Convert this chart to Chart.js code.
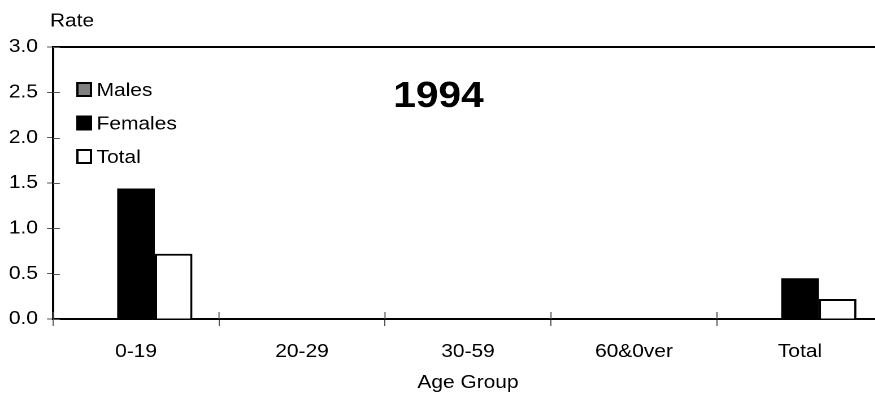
<!DOCTYPE html>
<html><head><meta charset="utf-8">
<script src="https://cdn.jsdelivr.net/npm/chart.js@4/dist/chart.umd.min.js"></script>
<style>
html,body{margin:0;padding:0;overflow:hidden;background:#fff;width:875px;height:394px}
#wrap{width:800px;height:394px;transform:scaleX(1.13);transform-origin:0 0}
</style>
</head><body><div id="wrap"><canvas id="c" width="800" height="394"></canvas></div>
<script>
const categories = ["0-19", "20-29", "30-59", "60&0ver", "Total"];
const males = [0, 0, 0, 0, 0];
const females = [1.44, 0, 0, 0, 0.45];
const total = [0.72, 0, 0, 0, 0.22];
const yTicks = [0, 0.5, 1.0, 1.5, 2.0, 2.5, 3.0];
const chartTitle = "1994";
const yTitle = "Rate";
const xTitle = "Age Group";

const FONT = "'Liberation Sans', Arial, sans-serif";

const extras = {
  id: 'extras',
  afterDraw(chart) {
    const ctx = chart.ctx, a = chart.chartArea;
    const xs = chart.scales.x, ys = chart.scales.y;
    ctx.save();
    // top border
    ctx.strokeStyle = '#000'; ctx.lineWidth = 2;
    ctx.beginPath(); ctx.moveTo(a.left, a.top); ctx.lineTo(a.right, a.top); ctx.stroke();
    // inner tick parts
    ctx.lineWidth = 1; ctx.strokeStyle = '#555';
    ys.ticks.forEach((t, i) => {
      const y = Math.round(ys.getPixelForTick(i)) + 0.5;
      ctx.beginPath(); ctx.moveTo(a.left, y); ctx.lineTo(a.left + 6, y); ctx.stroke();
    });
    const n = categories.length;
    for (let i = 0; i <= n; i++) {
      const x = xs.left + i * xs.width / n;
      ctx.beginPath(); ctx.moveTo(x, a.bottom - 7); ctx.lineTo(x, a.bottom); ctx.stroke();
    }
    // y title
    ctx.fillStyle = '#000';
    ctx.font = '18.5px ' + FONT;
    ctx.textAlign = 'left'; ctx.textBaseline = 'middle';
    ctx.fillText(yTitle, 44.2, 21.5);
    // chart title
    ctx.font = 'bold 36px ' + FONT;
    ctx.textAlign = 'center';
    ctx.fillText(chartTitle, 388, 97);
    // legend
    ctx.font = '18.5px ' + FONT;
    ctx.textAlign = 'left';
    chart.data.datasets.forEach((ds, i) => {
      const cy = 89.5 + i * 33.5;
      ctx.fillStyle = ds.backgroundColor;
      ctx.fillRect(68.5, cy - 6.5, 12, 13);
      ctx.strokeStyle = '#000'; ctx.lineWidth = 2;
      ctx.strokeRect(68.5, cy - 6.5, 12, 13);
      ctx.fillStyle = '#000';
      ctx.fillText(ds.label, 85.5, cy + 1.5);
    });
    ctx.restore();
  }
};

new Chart(document.getElementById('c'), {
  type: 'bar',
  data: {
    labels: categories,
    datasets: [
      { label: 'Males', data: males, backgroundColor: '#808080', borderColor: '#000', borderWidth: 0 },
      { label: 'Females', data: females, backgroundColor: '#000000', borderColor: '#000', borderWidth: 0 },
      { label: 'Total', data: total, backgroundColor: '#ffffff', borderColor: '#000', borderWidth: 2 }
    ]
  },
  options: {
    responsive: false,
    animation: false,
    devicePixelRatio: 2,
    layout: { padding: { top: 47, right: 18.6, left: 0, bottom: 0 } },
    datasets: { bar: { categoryPercentage: 0.68, barPercentage: 1.0 } },
    plugins: { legend: { display: false }, tooltip: { enabled: false }, title: { display: false } },
    scales: {
      x: {
        afterFit(s) { s.height = 75; },
        grid: { display: true, drawOnChartArea: false, offset: true, color: '#555', lineWidth: 1, tickLength: 7 },
        border: { display: true, color: '#000', width: 2 },
        ticks: { color: '#000', font: { family: FONT, size: 18.5 }, padding: 15, maxRotation: 0 },
        title: { display: true, text: xTitle, color: '#000', font: { family: FONT, size: 18.5 }, padding: { top: 0, bottom: 0 } }
      },
      y: {
        min: 0, max: 3,
        afterFit(s) { s.width = 46.9; },
        afterBuildTicks(s) { s.ticks = yTicks.map(v => ({ value: v })); },
        grid: { display: true, drawOnChartArea: false, color: '#555', lineWidth: 1, tickLength: 5.3 },
        border: { display: true, color: '#000', width: 2 },
        ticks: { color: '#000', font: { family: FONT, size: 18.5 }, padding: 8, callback: v => Number(v).toFixed(1) }
      }
    }
  },
  plugins: [extras]
});
</script></body></html>
